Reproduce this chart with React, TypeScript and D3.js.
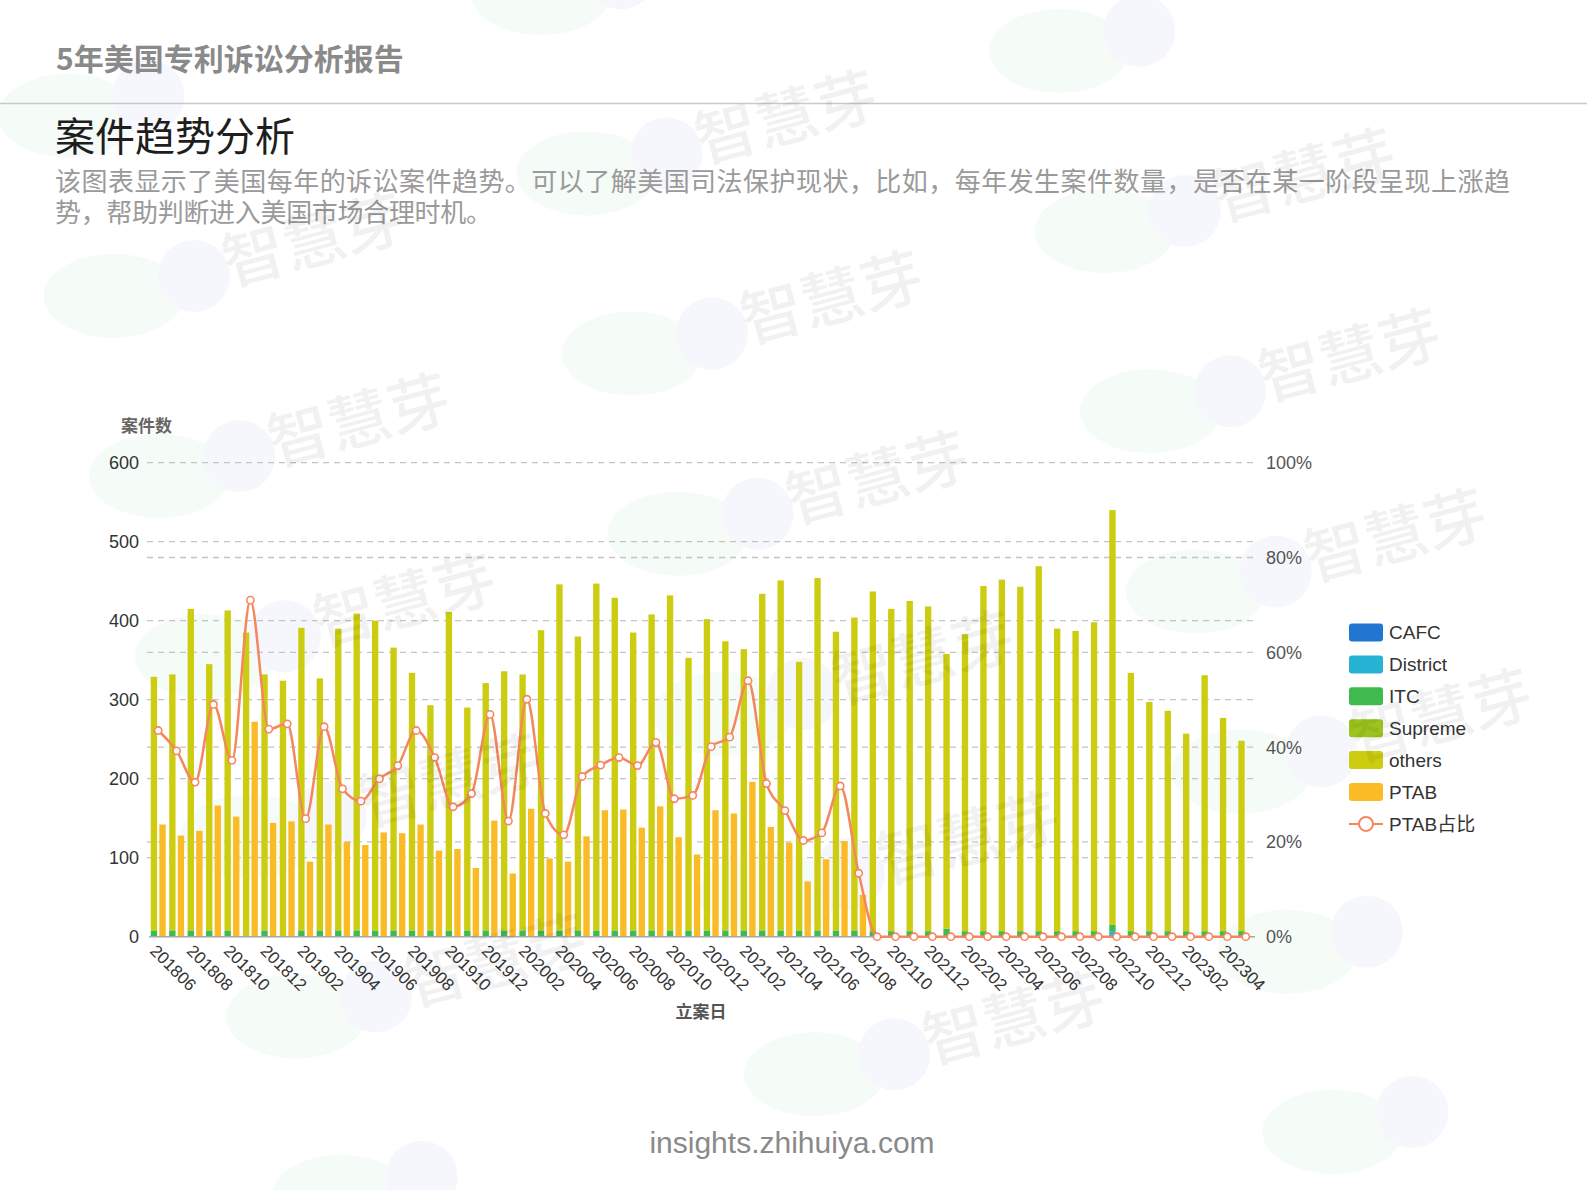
import React from "react";
import * as d3 from "d3";

const months = [
  "201806","201807","201808","201809","201810","201811","201812",
  "201901","201902","201903","201904","201905","201906","201907","201908","201909","201910","201911","201912",
  "202001","202002","202003","202004","202005","202006","202007","202008","202009","202010","202011","202012",
  "202101","202102","202103","202104","202105","202106","202107","202108","202109","202110","202111","202112",
  "202201","202202","202203","202204","202205","202206","202207","202208","202209","202210","202211","202212",
  "202301","202302","202303","202304","202305",
];

// total height of the court stack (CAFC+District+ITC+Supreme+others)
const courtTotal = [
  329, 332, 415, 345, 413, 385, 332, 324, 391, 327,
  390, 409, 400, 366, 334, 293, 411, 290, 321, 336,
  332, 388, 446, 380, 447, 429, 385, 408, 432, 353,
  402, 374, 364, 434, 451, 348, 454, 386, 404, 437,
  415, 425, 418, 358, 383, 444, 452, 443, 469, 390,
  387, 398, 540, 334, 297, 286, 257, 331, 277, 248,
];
const cafc = new Array(60).fill(0);
const district = [
  0,0,0,0,0,0,0,0,0,0, 0,0,0,0,0,0,0,0,0,0, 0,0,0,0,0,0,0,0,0,0,
  0,0,0,0,0,0,0,0,0,0, 0,0,0,0,0,0,0,0,0,0, 0,0,7,0,0,0,0,0,0,0,
];
const itc = [
  8,8,8,8,8,0,8,0,8,8, 8,8,8,8,8,8,8,8,8,8, 8,8,8,8,8,8,8,8,8,8,
  8,8,8,8,8,8,8,8,8,7, 7,7,7,10,7,7,7,7,7,7, 7,7,8,7,7,7,7,7,7,7,
];
const supreme = new Array(60).fill(0);
const ptab = [
  142, 128, 134, 166, 152, 272, 144, 146, 95, 142,
  120, 116, 132, 131, 142, 109, 111, 87, 147, 80,
  162, 99, 95, 127, 160, 161, 138, 165, 126, 104,
  160, 156, 196, 139, 119, 70, 98, 121, 53, 0,
  0,0,0,0,0,0,0,0,0,0, 0,0,0,0,0,0,0,0,0,0,
];
const ptabShare = [
  43.5, 39.2, 32.6, 49.0, 37.2, 71.0, 43.8, 44.9, 24.9, 44.3,
  31.2, 28.6, 33.3, 36.1, 43.5, 37.8, 27.4, 30.2, 46.9, 24.4,
  50.1, 26.0, 21.5, 33.8, 36.2, 37.8, 36.1, 41.0, 29.1, 29.8,
  40.1, 42.1, 54.0, 32.3, 26.6, 20.3, 21.9, 31.8, 13.4, 0,
  0,0,0,0,0,0,0,0,0,0, 0,0,0,0,0,0,0,0,0,0,
];
const leftTicks = [0, 100, 200, 300, 400, 500, 600];
const rightTicks = [0, 0.2, 0.4, 0.6, 0.8, 1];

const seriesKeys = ["CAFC", "District", "ITC", "Supreme", "others"];
const colors: Record<string, string> = {
  CAFC: "#2176d2",
  District: "#27b3d3",
  ITC: "#3fba4e",
  Supreme: "#9dc41e",
  others: "#cccd10",
  PTAB: "#fbbb26",
  line: "#f5875f",
};
const legendItems = ["CAFC", "District", "ITC", "Supreme", "others", "PTAB", "PTAB占比"];

const W = 1587, H = 1190;
const CJK = "'Noto Sans CJK SC', sans-serif";
const LAT = "'Liberation Sans', 'Noto Sans CJK SC', sans-serif";

export default function App() {
  const x = d3.scaleBand<string>().domain(months).range([149, 1255]).padding(0);
  const yL = d3.scaleLinear().domain([0, 600]).range([936.7, 462.7]);
  const yR = d3.scaleLinear().domain([0, 1]).range([936.7, 462.7]);
  const bwidth = x.bandwidth();
  const bw = bwidth * 0.345;
  const gap = bwidth * 0.12;
  const cx = (m: string) => (x(m) as number) + bwidth / 2;

  const rows = months.map((m, i) => ({
    month: m,
    CAFC: cafc[i],
    District: district[i],
    ITC: itc[i],
    Supreme: supreme[i],
    others: courtTotal[i] - itc[i] - district[i] - cafc[i] - supreme[i],
  }));
  const stacked = d3.stack<any>().keys(seriesKeys)(rows);

  const line = d3
    .line<number>()
    .x((_, i) => cx(months[i]))
    .y((v) => yR(v / 100))
    .curve(d3.curveMonotoneX);

  // watermark lattice (decoration)
  const blobs: { x: number; y: number }[] = [];
  const marks: { x: number; y: number }[] = [];
  for (let i = -1; i <= 2; i++) {
    for (let j = -2; j <= 5; j++) {
      const px = (310 + i * 512 + j * 45) / 0.988;
      const py = (238 + i * 57 + j * 178) / 0.988;
      if (px > -150 && px < W + 150 && py > -80 && py < H + 80) blobs.push({ x: px, y: py });
      if (px > 110 && px < W - 110 && py > 90 && py < H - 90) marks.push({ x: px, y: py });
    }
  }

  const x0 = 149, x1 = 1255;

  return (
    <svg width={W} height={H} style={{ position: "absolute", left: 0, top: 0, background: "#fff" }}>
      <rect x={0} y={0} width={W} height={H} fill="#fff" />
      {/* background blobs */}
      {blobs.map((p, k) => (
        <g key={"b" + k}>
          <ellipse cx={p.x - 200} cy={p.y + 55} rx={70} ry={42} fill="#f5fbf7" />
          <circle cx={p.x - 120} cy={p.y + 35} r={36} fill="#f6f7fd" />
        </g>
      ))}

      {/* header */}
      <text x={56} y={70} fontFamily={CJK} fontSize={30} fontWeight={700} fill="#8a8a8a">
        5年美国专利诉讼分析报告
      </text>
      <line x1={0} x2={W} y1={103.5} y2={103.5} stroke="#c9c9c9" strokeWidth={1.5} />
      <text x={55} y={151} fontFamily={CJK} fontSize={40} fill="#1e1e1e">
        案件趋势分析
      </text>
      <text x={55} y={191} fontFamily={CJK} fontSize={26} fill="#9a9a9a" textLength={1455} lengthAdjust="spacing">
        该图表显示了美国每年的诉讼案件趋势。可以了解美国司法保护现状，比如，每年发生案件数量，是否在某一阶段呈现上涨趋
      </text>
      <text x={55} y={222} fontFamily={CJK} fontSize={26} fill="#9a9a9a" textLength={437} lengthAdjust="spacing">
        势，帮助判断进入美国市场合理时机。
      </text>

      {/* grid lines */}
      {leftTicks.filter((t) => t > 0).map((t) => (
        <line key={"gl" + t} x1={x0 - 2} x2={x1} y1={yL(t)} y2={yL(t)} stroke="#c4c4c4" strokeWidth={1.3} strokeDasharray="6,5" />
      ))}
      {rightTicks.filter((t) => t > 0 && t < 1).map((t) => (
        <line key={"gr" + t} x1={x0 - 2} x2={x1} y1={yR(t)} y2={yR(t)} stroke="#c4c4c4" strokeWidth={1.3} strokeDasharray="6,5" />
      ))}

      {/* axis labels */}
      <text x={121} y={432} fontFamily={CJK} fontSize={17} fontWeight={600} fill="#666">案件数</text>
      {leftTicks.map((t) => (
        <text key={"lt" + t} x={139} y={yL(t)} dy="0.36em" textAnchor="end" fontFamily={LAT} fontSize={18} fill="#333">
          {t}
        </text>
      ))}
      {rightTicks.map((t) => (
        <text key={"rt" + t} x={1266} y={yR(t)} dy="0.36em" textAnchor="start" fontFamily={LAT} fontSize={18} fill="#555">
          {d3.format(".0%")(t)}
        </text>
      ))}

      {/* stacked court bars */}
      {stacked.map((s) => (
        <g key={s.key} fill={colors[s.key]}>
          {s.map((d, i) => {
            const h = yL(d[0]) - yL(d[1]);
            if (h <= 0) return null;
            return (
              <rect key={i} x={cx(months[i]) - gap / 2 - bw} y={yL(d[1])} width={bw} height={h} />
            );
          })}
        </g>
      ))}
      {/* PTAB bars */}
      <g fill={colors.PTAB}>
        {ptab.map((v, i) =>
          v > 0 ? (
            <rect key={i} x={cx(months[i]) + gap / 2} y={yL(v)} width={bw} height={yL(0) - yL(v)} />
          ) : null
        )}
      </g>

      {/* x axis */}
      <line x1={x0} x2={x1} y1={yL(0)} y2={yL(0)} stroke="#a8a8a8" strokeWidth={1.5} />
      {months.map((m, i) =>
        i % 2 === 0 ? (
          <text
            key={"xl" + m}
            transform={`translate(${cx(m) - 5},${yL(0) + 11}) rotate(45)`}
            fontFamily={LAT}
            fontSize={17}
            fill="#333"
            dy="0.35em"
          >
            {m}
          </text>
        ) : null
      )}
      <text x={701} y={1018} textAnchor="middle" fontFamily={CJK} fontSize={17} fontWeight={600} fill="#555">立案日</text>

      {/* PTAB share line */}
      <path d={line(ptabShare) || ""} fill="none" stroke={colors.line} strokeWidth={2.5} />
      {ptabShare.map((v, i) => (
        <circle key={"pt" + i} cx={cx(months[i])} cy={yR(v / 100)} r={3.6} fill="#fff" stroke={colors.line} strokeWidth={1.6} />
      ))}

      {/* legend */}
      {legendItems.map((k, i) => {
        const ly = 632.5 + i * 31.9;
        return (
          <g key={"lg" + k}>
            {k === "PTAB占比" ? (
              <g>
                <line x1={1349} x2={1383} y1={ly} y2={ly} stroke={colors.line} strokeWidth={2} />
                <circle cx={1366} cy={ly} r={7} fill="#fff" stroke={colors.line} strokeWidth={2} />
              </g>
            ) : (
              <rect x={1349} y={ly - 9} width={34} height={18} rx={3} fill={colors[k]} />
            )}
            <text x={1389} y={ly} dy="0.36em" fontFamily={LAT} fontSize={19} fill="#333">
              {k}
            </text>
          </g>
        );
      })}

      {/* footer */}
      <text x={792} y={1153} textAnchor="middle" fontFamily={LAT} fontSize={30} fill="#8a8a8a">
        insights.zhihuiya.com
      </text>

      {/* watermarks */}
      {marks.map((p, k) => (
        <text
          key={"w" + k}
          transform={`translate(${p.x},${p.y}) rotate(-15)`}
          textAnchor="middle"
          dy="0.35em"
          fontFamily={CJK}
          fontSize={62}
          fontWeight={500}
          fill="#000"
          fillOpacity={0.055}
        >
          智慧芽
        </text>
      ))}
    </svg>
  );
}
